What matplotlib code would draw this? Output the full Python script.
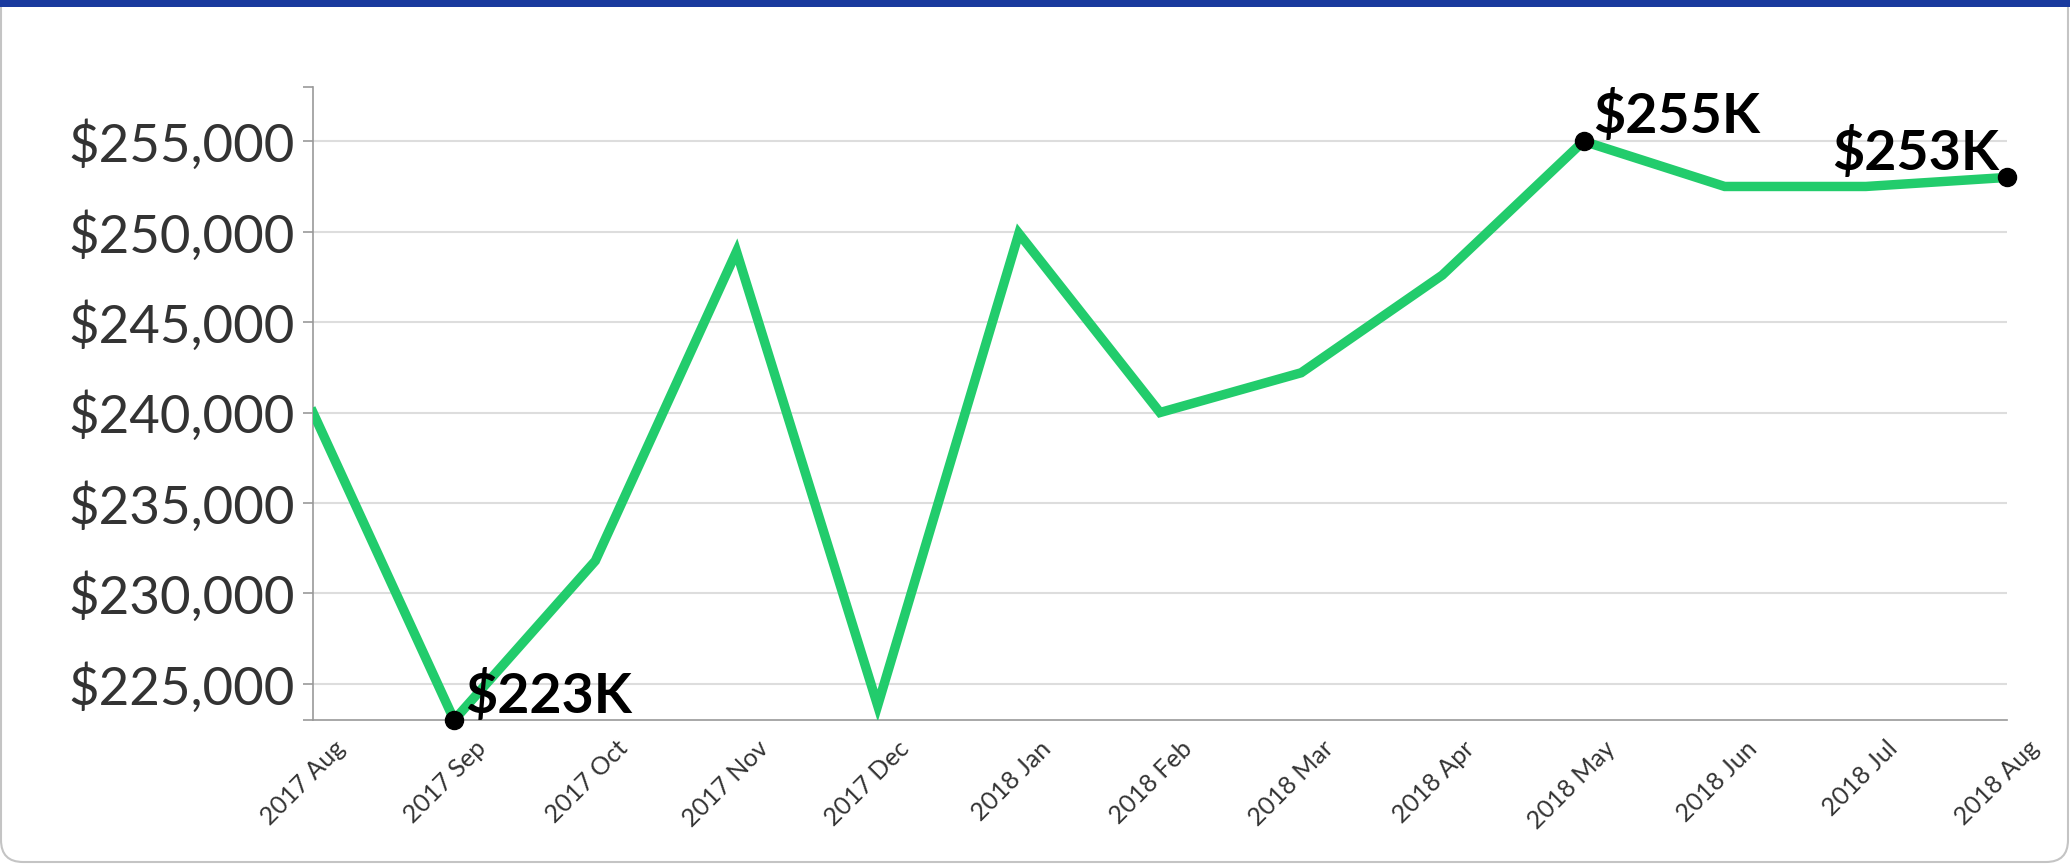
import matplotlib
matplotlib.use("Agg")
import matplotlib.pyplot as plt
import matplotlib.ticker as mticker
from matplotlib.patches import FancyBboxPatch, Rectangle
from matplotlib.transforms import IdentityTransform, ScaledTranslation

# monthly median values
months = [
    "2017 Aug", "2017 Sep", "2017 Oct", "2017 Nov", "2017 Dec", "2018 Jan",
    "2018 Feb", "2018 Mar", "2018 Apr", "2018 May", "2018 Jun", "2018 Jul",
    "2018 Aug",
]
prices = [
    240000, 223000, 231800, 248900, 223800, 249900,
    240000, 242200, 247600, 255000, 252500, 252500,
    253000,
]
y_ticks = [225000, 230000, 235000, 240000, 245000, 250000, 255000]
y_limits = (223000, 258000)

LINE_COLOR = "#22cc6c"
GRID_COLOR = "#dddddd"
AXIS_COLOR = "#999999"
TEXT_COLOR = "#333333"
BAR_COLOR = "#1a3a9e"

W, H = 2070, 865


def money_k(v):
    return f"${int(round(v / 1000))}K"


fig = plt.figure(figsize=(W / 100, H / 100), dpi=100)
fig.patch.set_facecolor("white")

# card frame (pixel coords) + top bar
card = FancyBboxPatch((1, 3), W - 3, H + 40, boxstyle="round,pad=0,rounding_size=22",
                      transform=IdentityTransform(), facecolor="none",
                      edgecolor="#c4c4c4", linewidth=1.5, zorder=-5)
fig.patches.append(card)
fig.patches.append(Rectangle((0, 1 - 7 / H), 1, 7 / H, transform=fig.transFigure,
                             facecolor=BAR_COLOR, edgecolor="none", zorder=-4))

ax = fig.add_axes([313 / W, 1 - 720 / H, (2007 - 313) / W, (720 - 87) / H])
ax.set_facecolor("none")

x = list(range(len(months)))
ax.plot(x, prices, color=LINE_COLOR, linewidth=6.8, solid_joinstyle="miter", zorder=3)

# highlight min, max and last
i_min = prices.index(min(prices))
i_max = prices.index(max(prices))
i_last = len(prices) - 1
for i in (i_min, i_max, i_last):
    ax.plot(x[i], prices[i], "o", color="black", markersize=13, zorder=4, clip_on=False)

label_kw = dict(fontsize=40, fontweight="bold", family="Lato", color="black",
                textcoords="offset points", zorder=5)
ax.annotate(money_k(prices[i_min]), (x[i_min], prices[i_min]), xytext=(8, 5),
            ha="left", va="baseline", **label_kw)
ax.annotate(money_k(prices[i_max]), (x[i_max], prices[i_max]), xytext=(7, 6),
            ha="left", va="baseline", **label_kw)
ax.annotate(money_k(prices[i_last]), (x[i_last], prices[i_last]), xytext=(-6, 5),
            ha="right", va="baseline", **label_kw)

ax.set_xlim(0, len(months) - 1)
ax.set_ylim(*y_limits)

ax.set_yticks(y_ticks)
ax.yaxis.set_major_formatter(mticker.FuncFormatter(lambda v, _: f"${v:,.0f}"))
ax.set_yticks(list(y_limits), minor=True)
ax.grid(True, axis="y", color=GRID_COLOR, linewidth=1.5, zorder=0)
ax.set_axisbelow(True)

ax.set_xticks(x)
ax.set_xticklabels(months, rotation=45, ha="right", va="top", rotation_mode="anchor")
ax.set_xticks([0, len(months) - 1], minor=True)

ax.tick_params(axis="y", which="both", length=7, width=1.2, color=AXIS_COLOR,
               labelsize=38, labelcolor=TEXT_COLOR, pad=6)
ax.tick_params(axis="x", which="major", length=0, labelsize=18, labelcolor=TEXT_COLOR, pad=12)
ax.tick_params(axis="x", which="minor", length=7, width=1.2, color=AXIS_COLOR)
for lab in ax.get_yticklabels():
    lab.set_family("Lato")
shift = ScaledTranslation(20 / 100, 0, fig.dpi_scale_trans)
for lab in ax.get_xticklabels():
    lab.set_family("Lato")
    lab.set_transform(lab.get_transform() + shift)

for side in ("top", "right"):
    ax.spines[side].set_visible(False)
for side in ("left", "bottom"):
    ax.spines[side].set_color(AXIS_COLOR)
    ax.spines[side].set_linewidth(1.2)

fig.savefig("out.png", dpi=100, facecolor="white")
